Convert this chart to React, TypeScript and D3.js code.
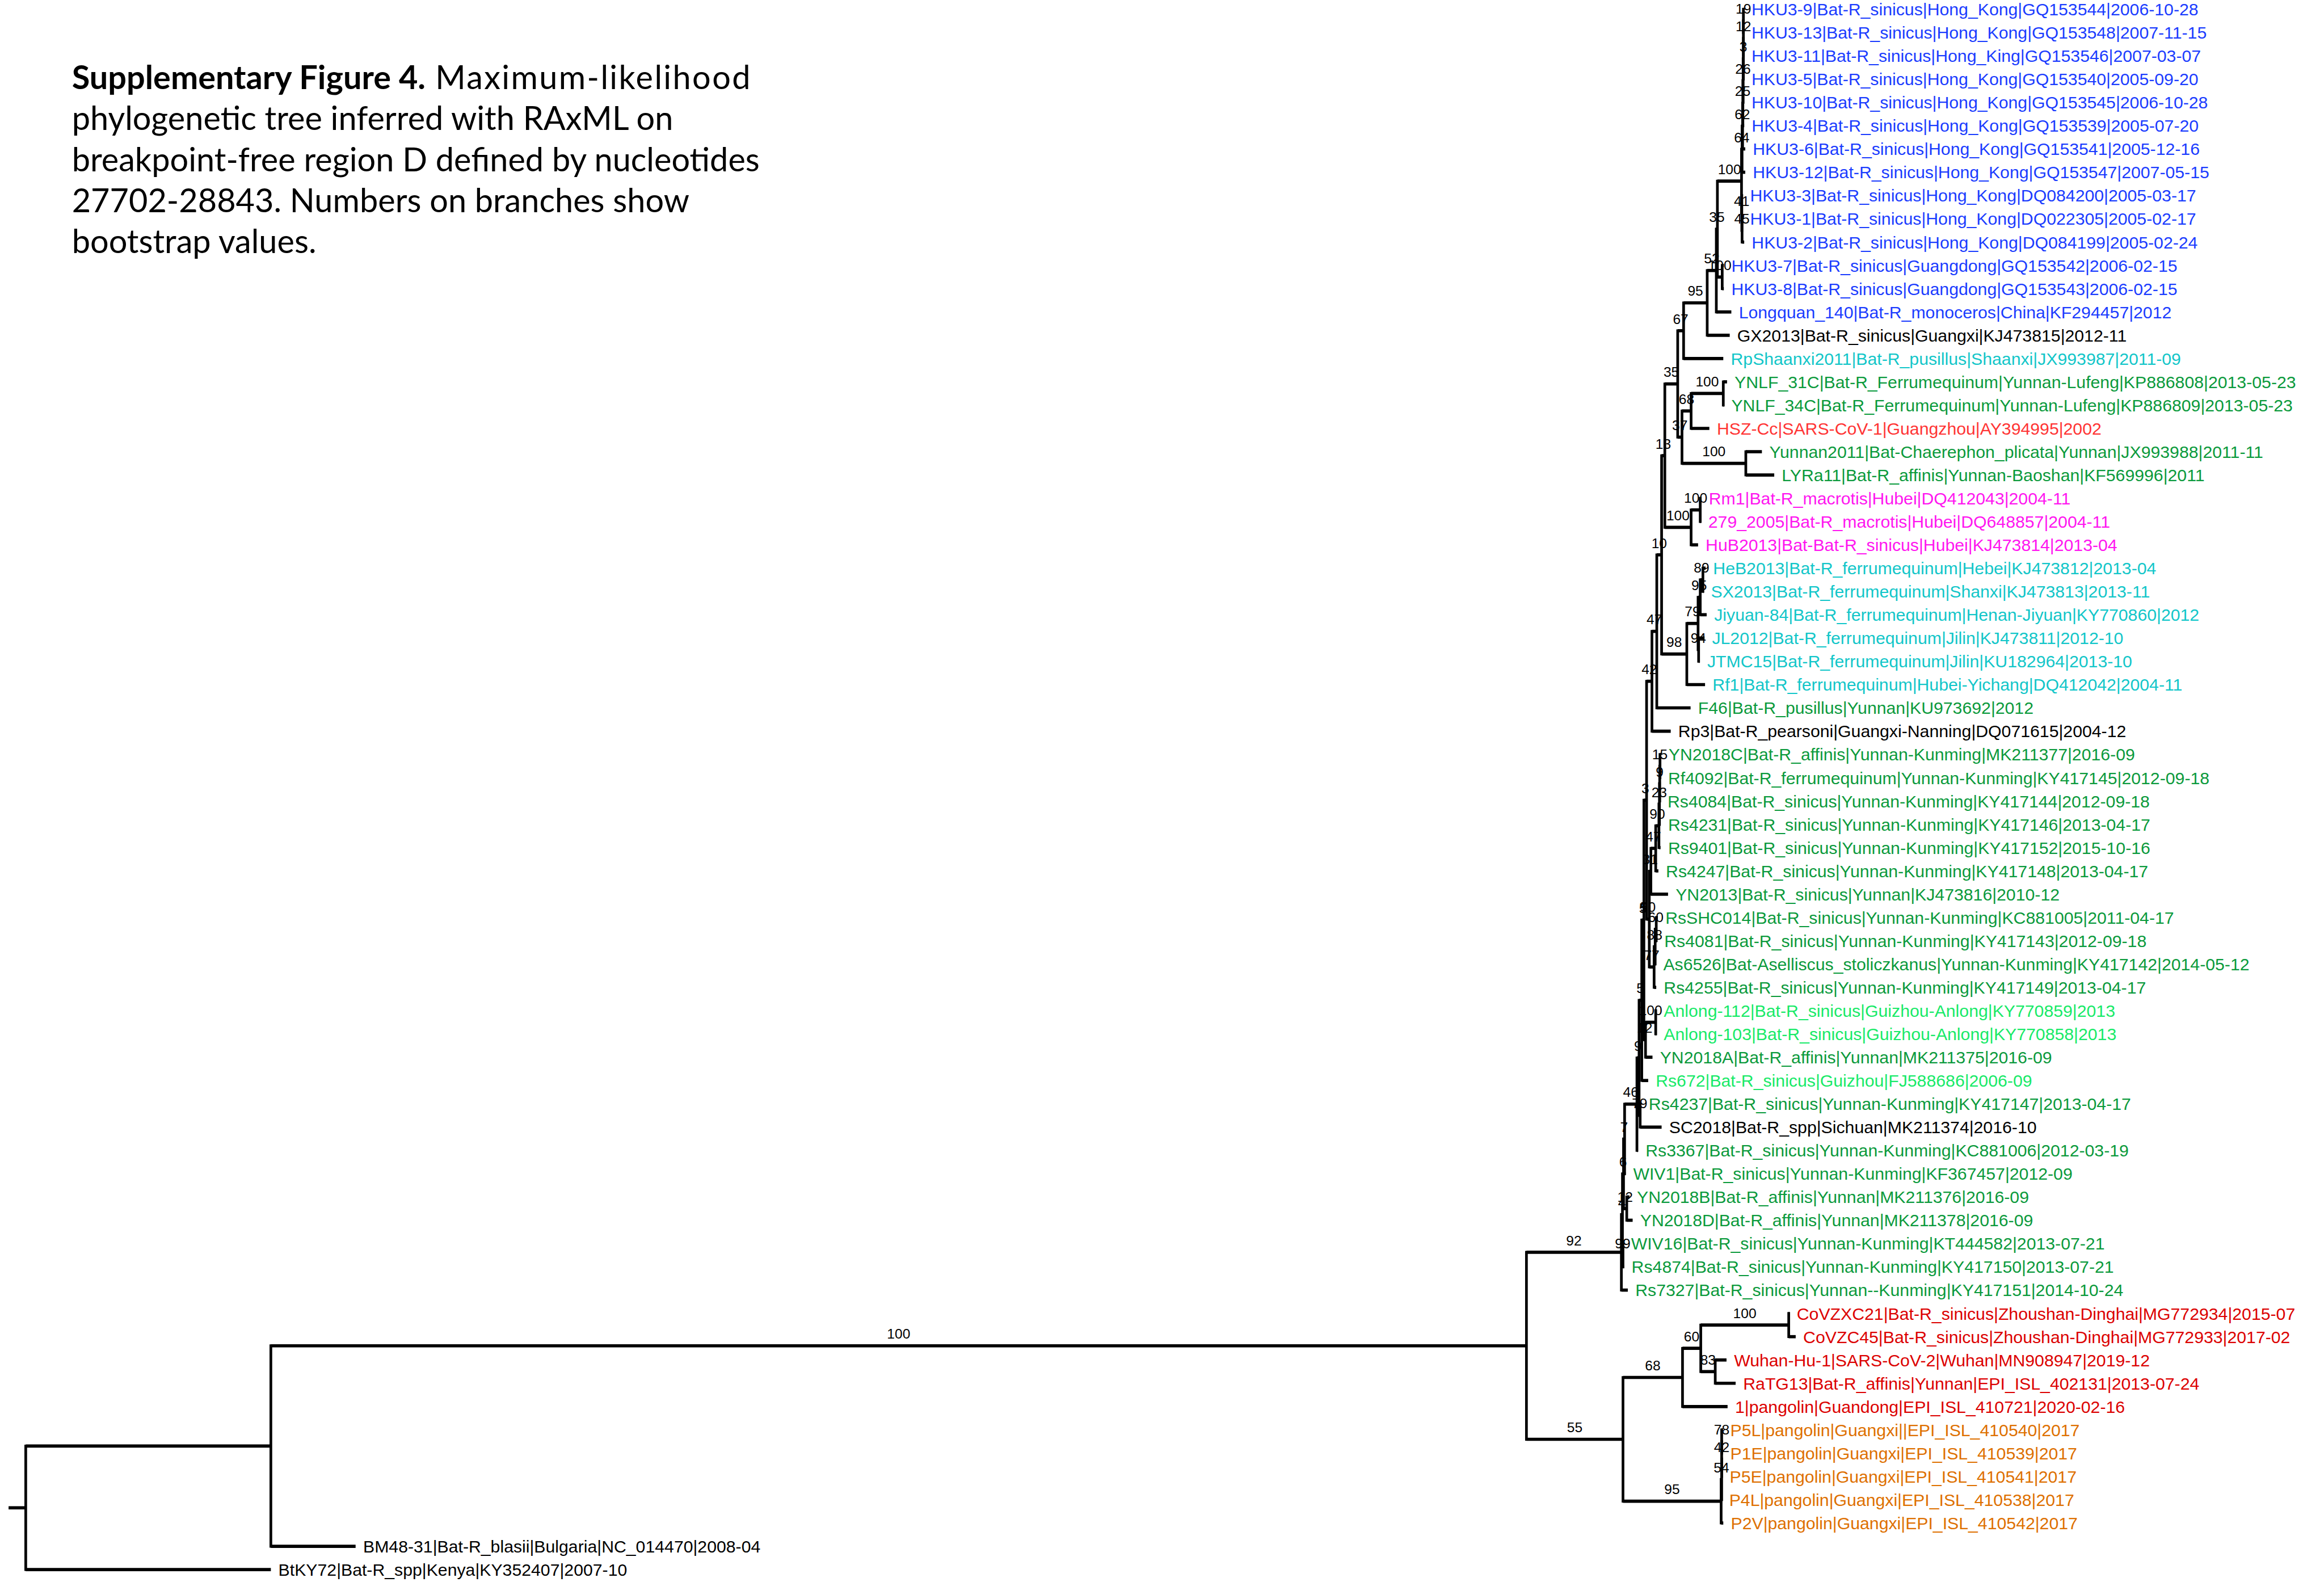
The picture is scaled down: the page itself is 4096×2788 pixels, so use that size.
import React from "react";
import * as d3 from "d3";

// leaf labels, top to bottom
const leafLabels = [
  "HKU3-9|Bat-R_sinicus|Hong_Kong|GQ153544|2006-10-28",
  "HKU3-13|Bat-R_sinicus|Hong_Kong|GQ153548|2007-11-15",
  "HKU3-11|Bat-R_sinicus|Hong_King|GQ153546|2007-03-07",
  "HKU3-5|Bat-R_sinicus|Hong_Kong|GQ153540|2005-09-20",
  "HKU3-10|Bat-R_sinicus|Hong_Kong|GQ153545|2006-10-28",
  "HKU3-4|Bat-R_sinicus|Hong_Kong|GQ153539|2005-07-20",
  "HKU3-6|Bat-R_sinicus|Hong_Kong|GQ153541|2005-12-16",
  "HKU3-12|Bat-R_sinicus|Hong_Kong|GQ153547|2007-05-15",
  "HKU3-3|Bat-R_sinicus|Hong_Kong|DQ084200|2005-03-17",
  "HKU3-1|Bat-R_sinicus|Hong_Kong|DQ022305|2005-02-17",
  "HKU3-2|Bat-R_sinicus|Hong_Kong|DQ084199|2005-02-24",
  "HKU3-7|Bat-R_sinicus|Guangdong|GQ153542|2006-02-15",
  "HKU3-8|Bat-R_sinicus|Guangdong|GQ153543|2006-02-15",
  "Longquan_140|Bat-R_monoceros|China|KF294457|2012",
  "GX2013|Bat-R_sinicus|Guangxi|KJ473815|2012-11",
  "RpShaanxi2011|Bat-R_pusillus|Shaanxi|JX993987|2011-09",
  "YNLF_31C|Bat-R_Ferrumequinum|Yunnan-Lufeng|KP886808|2013-05-23",
  "YNLF_34C|Bat-R_Ferrumequinum|Yunnan-Lufeng|KP886809|2013-05-23",
  "HSZ-Cc|SARS-CoV-1|Guangzhou|AY394995|2002",
  "Yunnan2011|Bat-Chaerephon_plicata|Yunnan|JX993988|2011-11",
  "LYRa11|Bat-R_affinis|Yunnan-Baoshan|KF569996|2011",
  "Rm1|Bat-R_macrotis|Hubei|DQ412043|2004-11",
  "279_2005|Bat-R_macrotis|Hubei|DQ648857|2004-11",
  "HuB2013|Bat-Bat-R_sinicus|Hubei|KJ473814|2013-04",
  "HeB2013|Bat-R_ferrumequinum|Hebei|KJ473812|2013-04",
  "SX2013|Bat-R_ferrumequinum|Shanxi|KJ473813|2013-11",
  "Jiyuan-84|Bat-R_ferrumequinum|Henan-Jiyuan|KY770860|2012",
  "JL2012|Bat-R_ferrumequinum|Jilin|KJ473811|2012-10",
  "JTMC15|Bat-R_ferrumequinum|Jilin|KU182964|2013-10",
  "Rf1|Bat-R_ferrumequinum|Hubei-Yichang|DQ412042|2004-11",
  "F46|Bat-R_pusillus|Yunnan|KU973692|2012",
  "Rp3|Bat-R_pearsoni|Guangxi-Nanning|DQ071615|2004-12",
  "YN2018C|Bat-R_affinis|Yunnan-Kunming|MK211377|2016-09",
  "Rf4092|Bat-R_ferrumequinum|Yunnan-Kunming|KY417145|2012-09-18",
  "Rs4084|Bat-R_sinicus|Yunnan-Kunming|KY417144|2012-09-18",
  "Rs4231|Bat-R_sinicus|Yunnan-Kunming|KY417146|2013-04-17",
  "Rs9401|Bat-R_sinicus|Yunnan-Kunming|KY417152|2015-10-16",
  "Rs4247|Bat-R_sinicus|Yunnan-Kunming|KY417148|2013-04-17",
  "YN2013|Bat-R_sinicus|Yunnan|KJ473816|2010-12",
  "RsSHC014|Bat-R_sinicus|Yunnan-Kunming|KC881005|2011-04-17",
  "Rs4081|Bat-R_sinicus|Yunnan-Kunming|KY417143|2012-09-18",
  "As6526|Bat-Aselliscus_stoliczkanus|Yunnan-Kunming|KY417142|2014-05-12",
  "Rs4255|Bat-R_sinicus|Yunnan-Kunming|KY417149|2013-04-17",
  "Anlong-112|Bat-R_sinicus|Guizhou-Anlong|KY770859|2013",
  "Anlong-103|Bat-R_sinicus|Guizhou-Anlong|KY770858|2013",
  "YN2018A|Bat-R_affinis|Yunnan|MK211375|2016-09",
  "Rs672|Bat-R_sinicus|Guizhou|FJ588686|2006-09",
  "Rs4237|Bat-R_sinicus|Yunnan-Kunming|KY417147|2013-04-17",
  "SC2018|Bat-R_spp|Sichuan|MK211374|2016-10",
  "Rs3367|Bat-R_sinicus|Yunnan-Kunming|KC881006|2012-03-19",
  "WIV1|Bat-R_sinicus|Yunnan-Kunming|KF367457|2012-09",
  "YN2018B|Bat-R_affinis|Yunnan|MK211376|2016-09",
  "YN2018D|Bat-R_affinis|Yunnan|MK211378|2016-09",
  "WIV16|Bat-R_sinicus|Yunnan-Kunming|KT444582|2013-07-21",
  "Rs4874|Bat-R_sinicus|Yunnan-Kunming|KY417150|2013-07-21",
  "Rs7327|Bat-R_sinicus|Yunnan--Kunming|KY417151|2014-10-24",
  "CoVZXC21|Bat-R_sinicus|Zhoushan-Dinghai|MG772934|2015-07",
  "CoVZC45|Bat-R_sinicus|Zhoushan-Dinghai|MG772933|2017-02",
  "Wuhan-Hu-1|SARS-CoV-2|Wuhan|MN908947|2019-12",
  "RaTG13|Bat-R_affinis|Yunnan|EPI_ISL_402131|2013-07-24",
  "1|pangolin|Guandong|EPI_ISL_410721|2020-02-16",
  "P5L|pangolin|Guangxi||EPI_ISL_410540|2017",
  "P1E|pangolin|Guangxi|EPI_ISL_410539|2017",
  "P5E|pangolin|Guangxi|EPI_ISL_410541|2017",
  "P4L|pangolin|Guangxi|EPI_ISL_410538|2017",
  "P2V|pangolin|Guangxi|EPI_ISL_410542|2017",
  "BM48-31|Bat-R_blasii|Bulgaria|NC_014470|2008-04",
  "BtKY72|Bat-R_spp|Kenya|KY352407|2007-10",
];

// colour group of each leaf, same order
const leafGroups = [
  "b", "b", "b", "b", "b", "b", "b", "b", "b", "b", "b", "b", "b", "b",
  "k", "c", "g", "g", "p", "g", "g", "m", "m", "m",
  "c", "c", "c", "c", "c", "c", "g", "k",
  "g", "g", "g", "g", "g", "g", "g", "g", "g", "g", "g",
  "l", "l", "g", "l", "g", "k",
  "g", "g", "g", "g", "g", "g", "g",
  "r", "r", "r", "r", "r",
  "o", "o", "o", "o", "o",
  "k", "k",
];

const groupColors: Record<string, string> = {
  b: "#1b3cff",
  k: "#000000",
  c: "#12c6c9",
  g: "#0b9a3c",
  l: "#18ea68",
  p: "#ff3434",
  r: "#dc0000",
  m: "#ff16f0",
  o: "#de7000",
};

// tree edges: [node, parent, branch length, bootstrap]
const treeEdges: [string, string | null, number, number | null][] = [
  ["root", null, 0, null],
  ["nBM", "root", 0.457, null],
  ["nIn", "nBM", 2.341, 100],
  ["n92", "nIn", 0.177, 92],
  ["n4", "n92", 0.002, 4],
  ["n6", "n4", 0.002, 6],
  ["n7", "n6", 0.002, 7],
  ["n46", "n7", 0.023, 46],
  ["n9", "n46", 0.004, 9],
  ["n5b", "n9", 0.005, 5],
  ["n5a", "n5b", 0.004, 5],
  ["P1", "n5a", 0.005, 3],
  ["n42", "P1", 0.01, 42],
  ["n47", "n42", 0.009, 47],
  ["n10", "n47", 0.009, 10],
  ["n13", "n10", 0.006, 13],
  ["n35b", "n13", 0.024, 35],
  ["n67", "n35b", 0.011, 67],
  ["n95", "n67", 0.044, 95],
  ["n52", "n95", 0.017, 52],
  ["n35", "n52", 0.002, 35],
  ["nHK", "n35", 0.045, 100],
  ["n64", "nHK", 0.001, 64],
  ["n62", "n64", 0.001, 62],
  ["n25", "n62", 0.0005, 25],
  ["n26", "n25", 0.0005, 26],
  ["n3", "n26", 0.0005, 3],
  ["n12h", "n3", 0, 12],
  ["n19", "n12h", 0, 19],
  ["HKU3-9", "n19", 0.001, null],
  ["HKU3-13", "n19", 0.001, null],
  ["HKU3-11", "n12h", 0.001, null],
  ["HKU3-5", "n3", 0.001, null],
  ["HKU3-10", "n26", 0.0015, null],
  ["HKU3-4", "n25", 0.0025, null],
  ["HKU3-6", "n62", 0.005, null],
  ["HKU3-12", "n64", 0.006, null],
  ["n41", "nHK", 0.0005, 41],
  ["HKU3-3", "n41", 0.0015, null],
  ["n45", "n41", 0.0005, 45],
  ["HKU3-1", "n45", 0.001, null],
  ["HKU3-2", "n45", 0.004, null],
  ["nHK78", "n35", 0.009, 100],
  ["HKU3-7", "nHK78", 0.003, null],
  ["HKU3-8", "nHK78", 0.003, null],
  ["Longquan_140", "n52", 0.028, null],
  ["GX2013", "n95", 0.042, null],
  ["RpShaanxi2011", "n67", 0.074, null],
  ["n37", "n35b", 0.008, 37],
  ["n68", "n37", 0.017, 68],
  ["nYNLF", "n68", 0.06, 100],
  ["YNLF_31C", "nYNLF", 0.007, null],
  ["YNLF_34C", "nYNLF", 0.001, null],
  ["HSZ-Cc", "n68", 0.034, null],
  ["nYun", "n37", 0.119, 100],
  ["Yunnan2011", "nYun", 0.03, null],
  ["LYRa11", "nYun", 0.053, null],
  ["nMac", "n13", 0.049, 100],
  ["nRm1", "nMac", 0.017, 100],
  ["Rm1", "nRm1", 0.002, null],
  ["279_2005", "nRm1", 0.001, null],
  ["HuB2013", "nMac", 0.013, null],
  ["n98", "n10", 0.047, 98],
  ["n79f", "n98", 0.021, 79],
  ["n95f", "n79f", 0.004, 95],
  ["n89", "n95f", 0.005, 89],
  ["HeB2013", "n89", 0.005, null],
  ["SX2013", "n89", 0.001, null],
  ["Jiyuan-84", "n95f", 0.012, null],
  ["n94", "n79f", 0.001, 94],
  ["JL2012", "n94", 0.011, null],
  ["JTMC15", "n94", 0.002, null],
  ["Rf1", "n98", 0.034, null],
  ["F46", "n47", 0.063, null],
  ["Rp3", "n42", 0.035, null],
  ["n50", "P1", 0.005, 50],
  ["n31", "n50", 0.003, 31],
  ["n47b", "n31", 0.009, 47],
  ["n90", "n47b", 0.006, 90],
  ["n23", "n90", 0.001, 23],
  ["n9a", "n23", 0.0005, 9],
  ["n15", "n9a", 0.0005, 15],
  ["YN2018C", "n15", 0.002, null],
  ["Rf4092", "n15", 0.001, null],
  ["Rs4084", "n9a", 0.0005, null],
  ["Rs4231", "n23", 0.002, null],
  ["Rs9401", "n90", 0.003, null],
  ["Rs4247", "n47b", 0.005, null],
  ["YN2013", "n31", 0.032, null],
  ["n77", "n50", 0.009, 77],
  ["n88", "n77", 0.002, 88],
  ["n60", "n88", 0.002, 60],
  ["RsSHC014", "n60", 0.003, null],
  ["Rs4081", "n60", 0.001, null],
  ["As6526", "n88", 0.001, null],
  ["Rs4255", "n77", 0.004, null],
  ["n12", "n5a", 0.003, 12],
  ["n100a", "n12", 0.019, 100],
  ["Anlong-112", "n100a", 0.001, null],
  ["Anlong-103", "n100a", 0.001, null],
  ["YN2018A", "n12", 0.013, null],
  ["Rs672", "n5b", 0.012, null],
  ["n79y", "n9", 0.002, 79],
  ["Rs4237", "n79y", 0.002, null],
  ["SC2018", "n79y", 0.04, null],
  ["Rs3367", "n46", 0.002, null],
  ["WIV1", "n7", 0.002, null],
  ["nBD", "n6", 0.006, 12],
  ["YN2018B", "nBD", 0.005, null],
  ["YN2018D", "nBD", 0.011, null],
  ["n99", "n4", 0.001, 99],
  ["WIV16", "n99", 0.001, null],
  ["Rs4874", "n99", 0.002, null],
  ["Rs7327", "n92", 0.012, null],
  ["n55", "nIn", 0.18, 55],
  ["n68b", "n55", 0.111, 68],
  ["n60b", "n68b", 0.034, 60],
  ["nCoVZ", "n60b", 0.164, 100],
  ["CoVZXC21", "nCoVZ", 0.001, null],
  ["CoVZC45", "nCoVZ", 0.013, null],
  ["n83", "n60b", 0.027, 83],
  ["Wuhan-Hu-1", "n83", 0.021, null],
  ["RaTG13", "n83", 0.038, null],
  ["1", "n68b", 0.084, null],
  ["n95p", "n55", 0.183, 95],
  ["n54p", "n95p", 0.001, 54],
  ["n42p", "n54p", 0, 42],
  ["n78p", "n42p", 0, 78],
  ["P5L", "n78p", 0.002, null],
  ["P1E", "n78p", 0.002, null],
  ["P5E", "n42p", 0.001, null],
  ["P4L", "n54p", 0, null],
  ["P2V", "n95p", 0.004, null],
  ["BM48-31", "nBM", 0.158, null],
  ["BtKY72", "root", 0.457, null],
];

const rootStub = 0.032;

const titleBold = "Supplementary Figure 4.";
const titleLines = [
  " Maximum-likelihood",
  "phylogenetic tree inferred with RAxML on",
  "breakpoint-free region D defined by nucleotides",
  "27702-28843. Numbers on branches show",
  "bootstrap values.",
];

const W = 4333;
const H = 2949;

export default function App() {
  const rows = treeEdges.map(([id, parent, len, support]) => ({ id, parent, len, support }));
  const root: any = d3
    .stratify<any>()
    .id((d) => d.id)
    .parentId((d) => d.parent)(rows);

  const leafNames = leafLabels.map((l) => l.split("|")[0]);
  const labelOf = new Map(leafNames.map((n, i) => [n, leafLabels[i]]));
  const colorOf = new Map(leafNames.map((n, i) => [n, groupColors[leafGroups[i]]]));

  const xScale = d3.scaleLinear().domain([0, 1]).range([48, 1048]);
  const yScale = d3.scalePoint<string>().domain(leafNames).range([17, 2926]);

  root.eachBefore((n: any) => {
    n.dist = n.parent ? n.parent.dist + n.data.len : 0;
  });
  root.eachAfter((n: any) => {
    if (n.children) {
      n.py = (n.children[0].py + n.children[n.children.length - 1].py) / 2;
    } else {
      n.py = yScale(n.id) as number;
    }
    n.px = xScale(n.dist);
  });

  const nodes = root.descendants();
  const inner = nodes.filter((n: any) => n.children);
  const withParent = nodes.filter((n: any) => n.parent);
  const supported = withParent.filter((n: any) => n.data.support != null);

  return (
    <svg
      width={4096}
      height={2788}
      viewBox={`0 0 ${W} ${H}`}
      style={{ position: "absolute", left: 0, top: 0, background: "#fff" }}
    >
      <text x={134} y={166} fontFamily="Lato" fontSize={61} fill="#000">
        <tspan fontWeight="bold">{titleBold}</tspan>
        <tspan letterSpacing={2.5}>{titleLines[0]}</tspan>
        {titleLines.slice(1).map((t, i) => (
          <tspan key={i} x={134} y={166 + (i + 1) * 76.5}>
            {t}
          </tspan>
        ))}
      </text>

      <g stroke="#000" fill="none">
        {/* root stub */}
        <line
          x1={xScale(-rootStub)}
          x2={root.px}
          y1={root.py}
          y2={root.py}
          strokeWidth={6}
        />
        {withParent.map((n: any) => (
          <line key={"h" + n.id} x1={n.parent.px} x2={n.px} y1={n.py} y2={n.py} strokeWidth={6} />
        ))}
        {inner.map((n: any) => (
          <line
            key={"v" + n.id}
            x1={n.px}
            x2={n.px}
            y1={n.children[0].py}
            y2={n.children[n.children.length - 1].py}
            strokeWidth={5}
            strokeLinecap="square"
          />
        ))}
      </g>

      <g fontFamily="Liberation Sans, Arial, sans-serif" fontSize={26} fill="#000" textAnchor="middle">
        {supported.map((n: any) => (
          <text key={"s" + n.id} x={(n.parent.px + n.px) / 2} y={n.py - 13}>
            {n.data.support}
          </text>
        ))}
      </g>

      <g fontFamily="Liberation Sans, Arial, sans-serif" fontSize={32}>
        {root.leaves().map((n: any) => (
          <text key={"l" + n.id} x={n.px + 14} y={n.py} dy="0.36em" fill={colorOf.get(n.id)}>
            {labelOf.get(n.id)}
          </text>
        ))}
      </g>
    </svg>
  );
}
